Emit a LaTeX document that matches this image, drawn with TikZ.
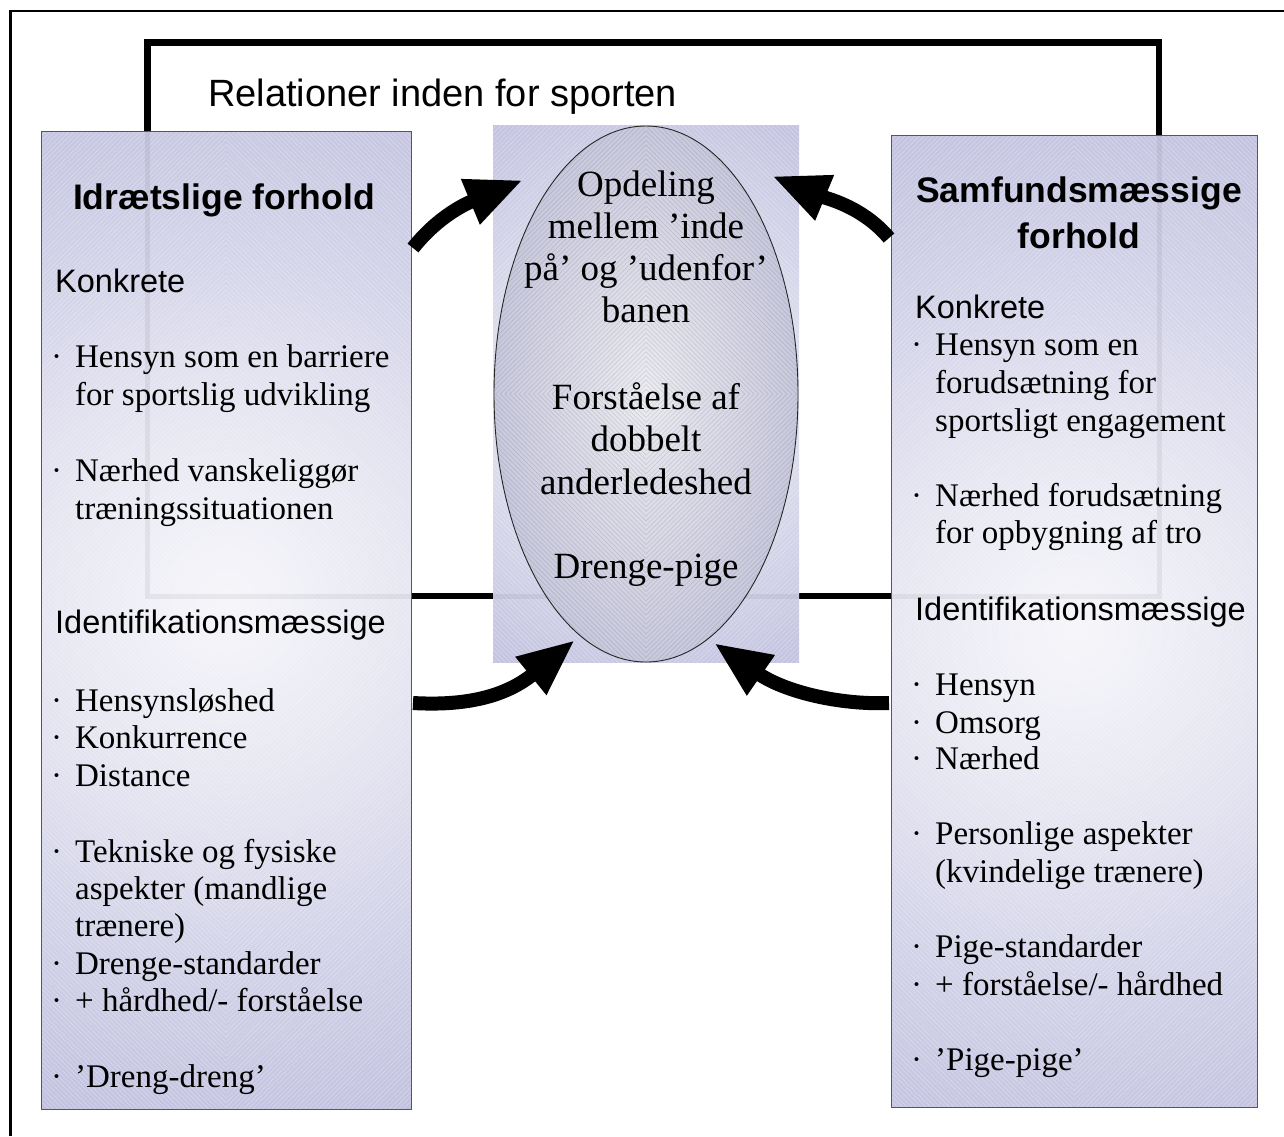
\documentclass[tikz,border=0pt]{standalone}
\usepackage{fontspec}
\setmainfont{Liberation Serif}
\setsansfont{Liberation Sans}
\usetikzlibrary{arrows.meta,shapes.geometric}
\definecolor{bc0}{HTML}{F6F6FA}
\definecolor{bc1}{HTML}{E6E6F2}
\definecolor{bc2}{HTML}{D0D0E7}
\definecolor{bc3}{HTML}{B6B6DA}
\definecolor{bc4}{HTML}{9898C9}
\definecolor{ec0}{HTML}{EBEBF1}
\definecolor{ec1}{HTML}{CDCDE0}
\definecolor{ec2}{HTML}{A4A4C7}
\definecolor{frameg}{HTML}{55556A}
\pgfdeclareradialshading{boxshade}{\pgfpointorigin}{color(0bp)=(bc0); color(9bp)=(bc1); color(18bp)=(bc2); color(32bp)=(bc3); color(50bp)=(bc4)}
\pgfdeclareradialshading{ellshade}{\pgfpointorigin}{color(0bp)=(ec0); color(22bp)=(ec1); color(50bp)=(ec2)}
\newcommand\bul{\makebox[0pt][r]{·\hspace{13pt}}}
\newcommand\hatchdiam[4]{%
  \draw[#4] \foreach \k in {4.7,9.4,...,#3} {(#1-\k,#2) -- (#1,#2-\k) -- (#1+\k,#2) -- (#1,#2+\k) -- cycle};}
\begin{document}
\begin{tikzpicture}[x=1pt,y=-1pt,
  body/.style={font=\fontsize{33}{38}\selectfont, anchor=base west, inner sep=0pt},
  elltext/.style={font=\fontsize{37}{42}\selectfont, anchor=base, inner sep=0pt},
  subhead/.style={font=\sffamily\fontsize{32.5}{38}\selectfont, anchor=base west, inner sep=0pt},
  bighead/.style={font=\sffamily\bfseries\fontsize{35.5}{40}\selectfont, anchor=base, inner sep=0pt},
  boxframe/.style={draw=frameg, line width=1pt, rectangle, inner sep=0pt},
  loopline/.style={line width=6.5pt, black},
  trace/.style={line width=5pt, black, opacity=0.055},
  whitehatch/.style={white, line width=0.6pt, opacity=0.3},
  darkhatch/.style={black, line width=0.5pt, opacity=0.12},
  bigarrow/.style={line width=14pt, black, -{Triangle[length=57pt,width=45pt]}}
]
\useasboundingbox (0,0) rectangle (1284,1136);

% outer frame (cropped on the right and bottom)
\draw[line width=2.8pt] (10.5,1136) -- (10.5,11) -- (1284,11);

% loop line "Relationer inden for sporten"
\draw[loopline] (147.5,42.5) rectangle (1159,596);

% left box
\begin{scope}
  \clip (41,131) rectangle (411,1109);
  \shade[shading=boxshade] (226-530,600-530) rectangle (226+530,600+530);
  \hatchdiam{226}{600}{690}{whitehatch}
\end{scope}
\draw[trace] (147.5,131) -- (147.5,596) -- (411,596);
\node[boxframe, minimum width=370pt, minimum height=978pt] (lbox) at (226,620) {};

% right box
\begin{scope}
  \clip (891,135) rectangle (1257,1107);
  \shade[shading=boxshade] (1074-525,630-525) rectangle (1074+525,630+525);
  \hatchdiam{1074}{630}{690}{whitehatch}
\end{scope}
\draw[trace] (1159,135) -- (1159,596) -- (891,596);
\node[boxframe, minimum width=366pt, minimum height=972pt] (rbox) at (1074,621) {};

% centre rectangle
\begin{scope}
  \clip (493,125) rectangle (799,662);
  \shade[shading=boxshade] (646-309,394-309) rectangle (646+309,394+309);
  \hatchdiam{646}{394}{430}{whitehatch}
\end{scope}
\draw[trace] (493,596) -- (799,596);
\node[rectangle, inner sep=0pt, minimum width=306pt, minimum height=537pt] (crect) at (646,394) {};

% ellipse
\node[ellipse, shade, shading=ellshade, inner sep=0pt, minimum width=304pt, minimum height=536pt] (ell) at (646,394) {};
\begin{scope}
  \clip (ell.center) ellipse [x radius=152pt, y radius=268pt];
  \hatchdiam{646}{394}{425}{darkhatch}
\end{scope}
\draw[line width=0.9pt, black!85] (ell.center) ellipse [x radius=152pt, y radius=268pt];

% title
\node[subhead, font=\sffamily\fontsize{38}{44}\selectfont] (title) at (208,106) {Relationer inden for sporten};

% left box text
\node[bighead] (lhead) at (224,209) {Idrætslige forhold};
\node[subhead] (lk) at (55,292) {Konkrete};
\node[body] (l1) at (75,367) {\bul Hensyn som en barriere};
\node[body] (l2) at (75,405) {for sportslig udvikling};
\node[body] (l3) at (75,481) {\bul Nærhed vanskeliggør};
\node[body] (l4) at (75,519) {træningssituationen};
\node[subhead] (li) at (55,633) {Identifikationsmæssige};
\node[body] (l5) at (75,711) {\bul Hensynsløshed};
\node[body] (l6) at (75,748) {\bul Konkurrence};
\node[body] (l7) at (75,786) {\bul Distance};
\node[body] (l8) at (75,862) {\bul Tekniske og fysiske};
\node[body] (l9) at (75,899) {aspekter (mandlige};
\node[body] (l10) at (75,936) {trænere)};
\node[body] (l11) at (75,974) {\bul Drenge-standarder};
\node[body] (l12) at (75,1011) {\bul + hårdhed/- forståelse};
\node[body] (l13) at (75,1087) {\bul ’Dreng-dreng’};

% right box text
\node[bighead] (rhead1) at (1079,202) {Samfundsmæssige};
\node[bighead] (rhead2) at (1079,248) {forhold};
\node[subhead] (rk) at (915,318) {Konkrete};
\node[body] (r1) at (935,355) {\bul Hensyn som en};
\node[body] (r2) at (935,393) {forudsætning for};
\node[body] (r3) at (935,431) {sportsligt engagement};
\node[body] (r4) at (935,506) {\bul Nærhed forudsætning};
\node[body] (r5) at (935,543) {for opbygning af tro};
\node[subhead] (ri) at (915,620) {Identifikationsmæssige};
\node[body] (r6) at (935,695) {\bul Hensyn};
\node[body] (r7) at (935,733) {\bul Omsorg};
\node[body] (r8) at (935,769) {\bul Nærhed};
\node[body] (r9) at (935,844) {\bul Personlige aspekter};
\node[body] (r10) at (935,882) {(kvindelige trænere)};
\node[body] (r11) at (935,957) {\bul Pige-standarder};
\node[body] (r12) at (935,995) {\bul + forståelse/- hårdhed};
\node[body] (r13) at (935,1070) {\bul ’Pige-pige’};

% ellipse text
\node[elltext] (e1) at (646,196) {Opdeling};
\node[elltext] (e2) at (646,238) {mellem ’inde};
\node[elltext] (e3) at (646,280) {på’ og ’udenfor’};
\node[elltext] (e4) at (646,322) {banen};
\node[elltext] (e5) at (646,409) {Forståelse af};
\node[elltext] (e6) at (646,451) {dobbelt};
\node[elltext] (e7) at (646,494) {anderledeshed};
\node[elltext] (e8) at (646,578) {Drenge-pige};

% arrows
\coordinate (a1s) at (413,248);
\coordinate (a1e) at (523,180);
\coordinate (a2s) at (889,238);
\coordinate (a2e) at (772,176);
\coordinate (a3s) at (413,703);
\coordinate (a3e) at (575,640);
\coordinate (a4s) at (889,703);
\coordinate (a4e) at (714,643);
\draw[bigarrow] (a1s) .. controls (440,214) and (470,202) .. (a1e);
\draw[bigarrow] (a2s) .. controls (862,206) and (825,198) .. (a2e);
\draw[bigarrow] (a3s) .. controls (465,706) and (505,697) .. (a3e);
\draw[bigarrow] (a4s) .. controls (840,705) and (785,692) .. (a4e);
\end{tikzpicture}
\end{document}
